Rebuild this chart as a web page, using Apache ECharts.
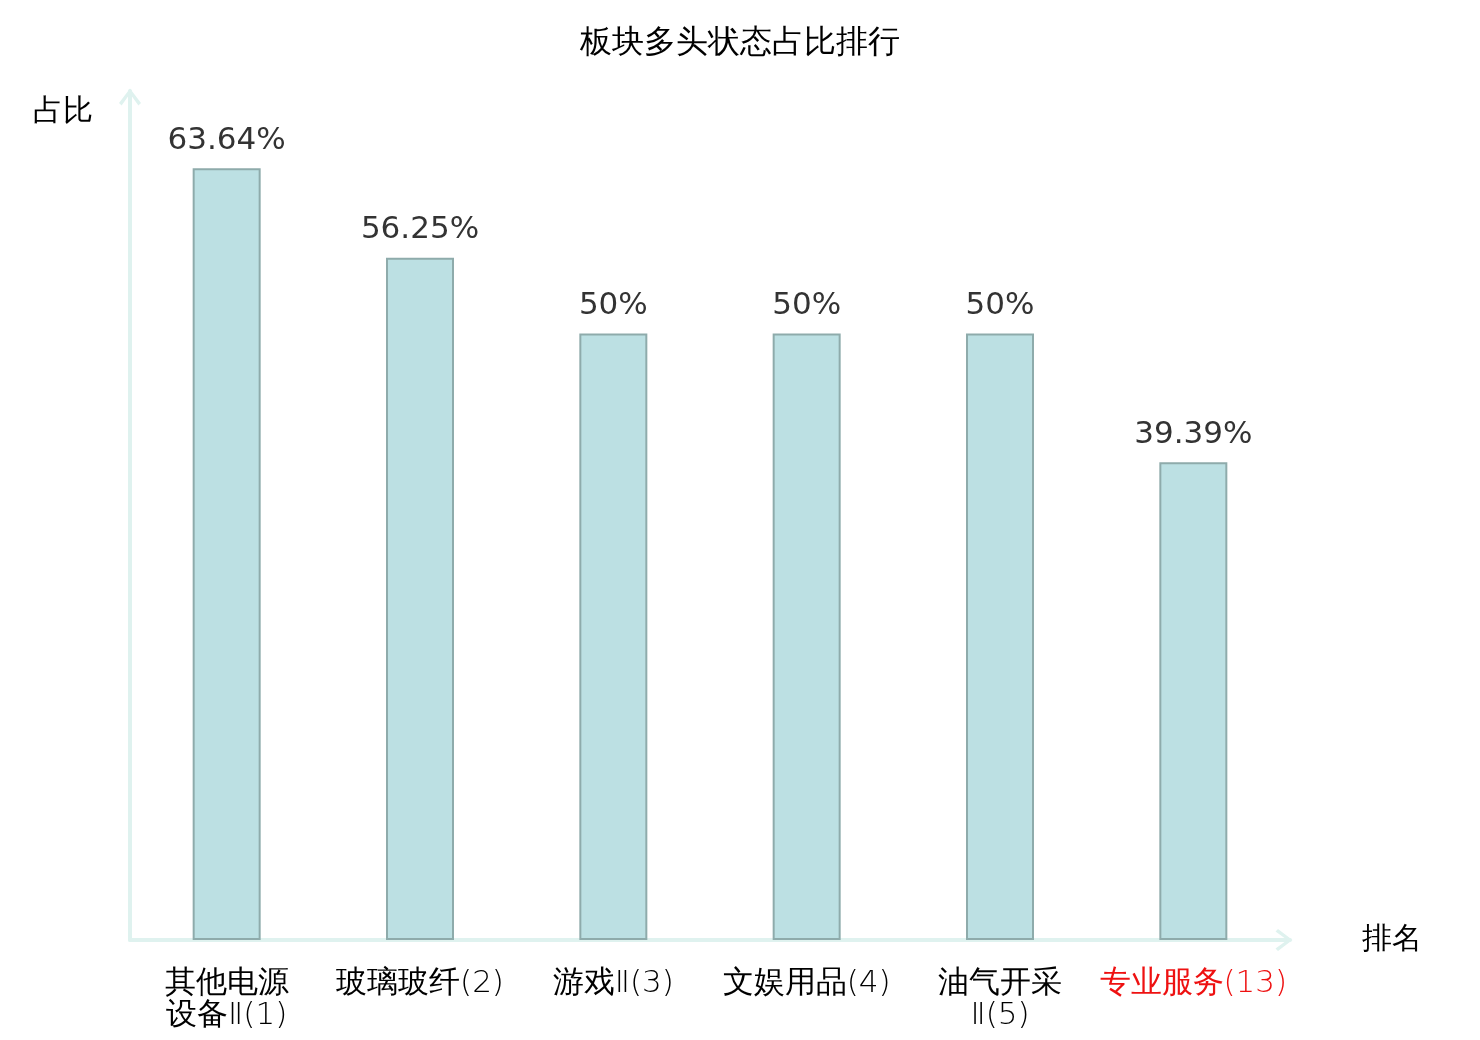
<!DOCTYPE html>
<html>
<head>
<meta charset="utf-8">
<title>板块多头状态占比排行</title>
<script src="https://cdn.jsdelivr.net/npm/echarts@6/dist/echarts.min.js"></script>
<style>
  html, body { margin: 0; padding: 0; background: #fff; }
  #chart { width: 1480px; height: 1040px; }
</style>
</head>
<body>
<div id="chart"></div>
<script>
// tick labels, line breaks as drawn in the picture
const categories = ['其他电源\n设备Ⅱ(1)', '玻璃玻纤(2)', '游戏Ⅱ(3)', '文娱用品(4)', '油气开采\nⅡ(5)', '专业服务(13)']
const ratios = [63.64, 56.25, 50, 50, 50, 39.39]
const highlightedIndex = 5

const chart = echarts.init(document.getElementById('chart'), null, { renderer: 'canvas' })

// open chevron arrow head, pointing up
const chevron = 'path://M0,14.5 L11,0 L22,14.5 L19.4,17 L11,5.2 L2.6,17 Z'

const axisLineStyle = {
  show: true,
  symbol: ['none', chevron],
  symbolSize: [22, 17],
  symbolOffset: [0, -6],
  lineStyle: { color: '#dff2ef', width: 4 },
}

const option = {
  animation: false,
  backgroundColor: '#fff',
  title: {
    text: '板块多头状态占比排行',
    left: 'center',
    top: 22,
    textStyle: { fontSize: 32, fontWeight: 'normal', color: '#000' },
  },
  grid: { left: 130, right: 190, top: 91, bottom: 100 },
  xAxis: {
    type: 'category',
    data: categories,
    name: '排名',
    nameLocation: 'end',
    nameGap: 72,
    nameTextStyle: { fontSize: 30, color: '#000', align: 'left', verticalAlign: 'middle', padding: [14, 0, 0, 0] },
    axisLine: axisLineStyle,
    axisTick: { show: false },
    axisLabel: {
      interval: 0,
      margin: 28,
      fontSize: 31,
      lineHeight: 32,
      fontFamily: 'DejaVu Sans',
      fontWeight: 200,
      color: (value, index) => (index === highlightedIndex ? '#ee1111' : '#000'),
    },
  },
  yAxis: {
    type: 'value',
    min: 0,
    max: 70,
    name: '占比',
    nameLocation: 'end',
    nameGap: -21,
    nameTextStyle: { fontSize: 30, color: '#000', align: 'right', verticalAlign: 'middle', padding: [0, 37, 0, 0] },
    axisLine: axisLineStyle,
    axisTick: { show: false },
    axisLabel: { show: false },
    splitLine: { show: false },
  },
  series: [
    {
      type: 'bar',
      data: ratios,
      barWidth: 68,
      itemStyle: { color: '#bce0e3', borderColor: '#8eabab', borderWidth: 2 },
      label: {
        show: true,
        position: 'top',
        distance: 12,
        formatter: '{c}%',
        fontSize: 31,
        fontFamily: 'DejaVu Sans',
        color: '#333',
      },
    },
  ],
}

chart.setOption(option)
</script>
</body>
</html>
